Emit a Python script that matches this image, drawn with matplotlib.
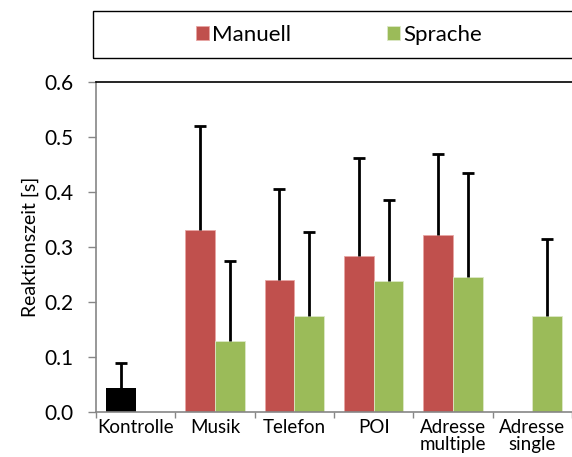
import numpy as np
import matplotlib.pyplot as plt
from matplotlib.patches import Rectangle

plt.rcParams['font.family'] = ['Lato', 'DejaVu Sans']

categories = ['Kontrolle', 'Musik', 'Telefon', 'POI', 'Adresse\nmultiple', 'Adresse\nsingle']

# control condition (only one bar)
kontrolle_mean = 0.045
kontrolle_err = 0.045

# index into categories, mean, upper error
manuell_idx = [1, 2, 3, 4]
manuell_mean = [0.330, 0.241, 0.284, 0.321]
manuell_err = [0.189, 0.165, 0.177, 0.148]

sprache_idx = [1, 2, 3, 4, 5]
sprache_mean = [0.130, 0.174, 0.239, 0.246, 0.174]
sprache_err = [0.144, 0.154, 0.146, 0.189, 0.140]

red = '#C0504D'
green = '#9BBB59'
width = 0.375


def upper_err(ax, x, y, e):
    # error bar pointing up only, cap on top
    cont = ax.errorbar(x, y, yerr=[np.zeros(len(e)), e], fmt='none', ecolor='black',
                       elinewidth=2, capsize=4.3, capthick=2)
    cont[1][0].remove()  # drop lower caps


fig = plt.figure(figsize=(5.72, 4.57), dpi=100)
ax = fig.add_axes([96 / 572, 1 - 412.3 / 457, 1 - 96 / 572, (412.3 - 81.7) / 457])

ax.bar([-width / 2], [kontrolle_mean], width, color='black')
ax.bar(np.array(manuell_idx) - width / 2, manuell_mean, width, color=red,
       edgecolor='#E8A5A3', linewidth=0.6, label='Manuell')
ax.bar(np.array(sprache_idx) + width / 2, sprache_mean, width, color=green,
       edgecolor='#DDE8C8', linewidth=0.6, label='Sprache')
upper_err(ax, [-width / 2], [kontrolle_mean], [kontrolle_err])
upper_err(ax, np.array(manuell_idx) - width / 2, manuell_mean, manuell_err)
upper_err(ax, np.array(sprache_idx) + width / 2, sprache_mean, sprache_err)

ax.set_xlim(-0.5, 5.45)
ax.set_ylim(0, 0.6)
ax.set_yticks(np.arange(0, 0.61, 0.1))
ax.set_yticklabels([f'{v:.1f}' for v in np.arange(0, 0.61, 0.1)], fontsize=15)

# category boundaries as major ticks, labels on minor ticks
ax.set_xticks(np.arange(-0.5, 6, 1))
ax.set_xticklabels([])
ax.set_xticks(np.arange(len(categories)), minor=True)
ax.set_xticklabels(categories, minor=True, fontsize=13.5, linespacing=0.95)
ax.tick_params(axis='x', which='major', length=4, color='#868686', width=1)
ax.tick_params(axis='x', which='minor', length=0, pad=5)
ax.tick_params(axis='y', length=6, color='#868686', width=1, pad=10)

ax.set_ylabel('Reaktionszeit [s]', fontsize=14, labelpad=4)

for s in ['left', 'bottom']:
    ax.spines[s].set_color('#868686')
    ax.spines[s].set_linewidth(1.2)
ax.spines['top'].set_color('black')
ax.spines['top'].set_linewidth(1.2)
ax.spines['right'].set_visible(False)

# legend box (runs past the right edge like the original)
fig.patches.append(Rectangle((93 / 572, 1 - 58 / 457), 0.9, 47 / 457,
                             transform=fig.transFigure, fill=False,
                             edgecolor='black', linewidth=1))
fig.legend(loc='center', bbox_to_anchor=(339 / 572, 1 - 35 / 457), ncol=2,
           frameon=False, fontsize=16, handlelength=0.6, handleheight=0.6,
           handletextpad=0.15, columnspacing=4.3)

fig.savefig('out.png', dpi=100)
